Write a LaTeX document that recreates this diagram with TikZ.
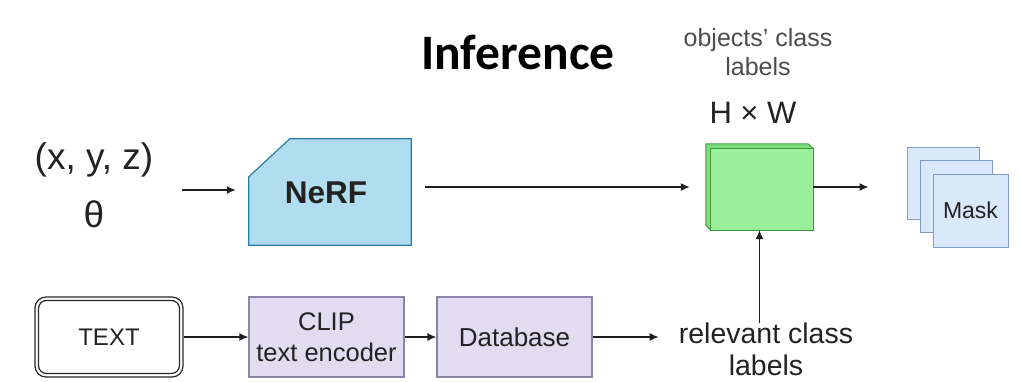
\documentclass[tikz,border=0pt]{standalone}
\usepackage{fontspec}
\setmainfont{Liberation Sans}[Ligatures=ResetAll]
\newfontfamily\calfont{Carlito}
\usetikzlibrary{arrows.meta,calc}
\definecolor{txt}{HTML}{222222}
\definecolor{nerffill}{HTML}{B1DDF0}
\definecolor{nerfline}{HTML}{2A7FA8}
\definecolor{gfill}{HTML}{9AF09A}
\definecolor{gside}{HTML}{7FDC7F}
\definecolor{gline}{HTML}{3C9A3C}
\definecolor{mfill}{HTML}{DAE8FC}
\definecolor{mline}{HTML}{7F9CC9}
\definecolor{pfill}{HTML}{E1DCF0}
\definecolor{pline}{HTML}{8C84A6}
\begin{document}
\begin{tikzpicture}[x=1pt,y=-1pt,
  arr/.style={-{Latex[length=9pt,width=8pt]}, line width=1.3pt, draw=black!88},
  lbl/.style={text=txt, inner sep=0pt, align=center},
  pbox/.style={draw=pline, fill=pfill, line width=1.2pt, minimum height=80pt, inner sep=0pt, align=center, text=txt},
  mbox/.style={draw=mline, fill=mfill, line width=1pt, minimum width=72pt, minimum height=72pt, inner sep=0pt}
]
\useasboundingbox (0,0) rectangle (1021,381);

% title
\node[lbl, font=\calfont\bfseries\fontsize{49.5}{56}\selectfont, text=black] (title) at (518,52) {Inference};
\node[lbl, text=black!70, font=\fontsize{25}{29}\selectfont] (obj) at (758,52) {objects\char"27\ class\\labels};
\node[lbl, font=\fontsize{31}{36}\selectfont] (hw) at (753,113) {H \texttimes\ W};

% inputs
\node[lbl, font=\fontsize{37}{42}\selectfont] (xyz) at (94,160) {(x, y, z)};
\node[lbl, font=\fontsize{37}{42}\selectfont] (theta) at (94,214) {θ};
\coordinate (inA) at (182,190);

% NeRF
\node[minimum width=162pt, minimum height=106pt, inner sep=0pt] (nerf) at (330,192) {};
\draw[draw=nerfline, fill=nerffill, line width=1.2pt]
  ($(nerf.north west)+(0,38)$) -- ($(nerf.north west)+(41,0)$) -- (nerf.north east)
  -- (nerf.south east) -- (nerf.south west) -- cycle;
\node[lbl, font=\bfseries\fontsize{31.5}{36}\selectfont] at (326,193) {NeRF};

% green grid
\node[minimum width=107pt, minimum height=86pt, inner sep=0pt] (grid) at (759.5,187) {};
\draw[draw=gline, fill=gside, line width=1.1pt]
  (grid.north west) -- ($(grid.north east)+(-5,0)$) -- ($(grid.north east)+(0,5)$)
  -- (grid.south east) -- ($(grid.south west)+(5,0)$) -- ($(grid.south west)+(0,-5)$) -- cycle;
\draw[draw=gline, fill=gfill, line width=1.1pt]
  ($(grid.north west)+(5,5)$) rectangle (grid.south east);

% masks
\node[mbox] (m1) at (943,183) {};
\node[mbox] (m2) at (956,196) {};
\node[mbox, minimum width=75pt, minimum height=73pt, font=\fontsize{23}{27}\selectfont, text=txt] (m3) at (970.5,210.5) {Mask};

% bottom row
\node[draw=black!85, line width=1.2pt, rounded corners=11pt, minimum width=148pt, minimum height=80pt, inner sep=0pt] (textbox) at (109,337) {};
\node[draw=black!85, line width=1.2pt, rounded corners=8pt, minimum width=141pt, minimum height=73pt, inner sep=0pt, font=\fontsize{24}{28}\selectfont, text=txt] (textin) at (109,337) {TEXT};
\node[pbox, minimum width=155pt, font=\fontsize{25.5}{31}\selectfont] (clip) at (326.5,337) {CLIP\\text encoder};
\node[pbox, minimum width=155pt, font=\fontsize{26}{31}\selectfont] (db) at (514.5,337) {Database};
\node[lbl, font=\fontsize{28.5}{32}\selectfont] (rel) at (766,349) {relevant class\\labels};

% connectors
\draw[arr, shorten >=13pt] (inA) -- (inA -| nerf.west);
\draw[arr, shorten <=14pt, shorten >=16pt] (nerf.east |- grid.west) -- (grid.west);
\draw[arr, shorten >=38pt] (grid.east) -- (grid.east -| m1.west);
\draw[arr] (textbox.east) -- (clip.west);
\draw[arr] (clip.east) -- (db.west);
\draw[arr, shorten >=20pt] (db.east) -- (db.east -| rel.west);
\draw[arr] (rel.north -| grid.south) ++(0,1) -- (grid.south);
\end{tikzpicture}
\end{document}
